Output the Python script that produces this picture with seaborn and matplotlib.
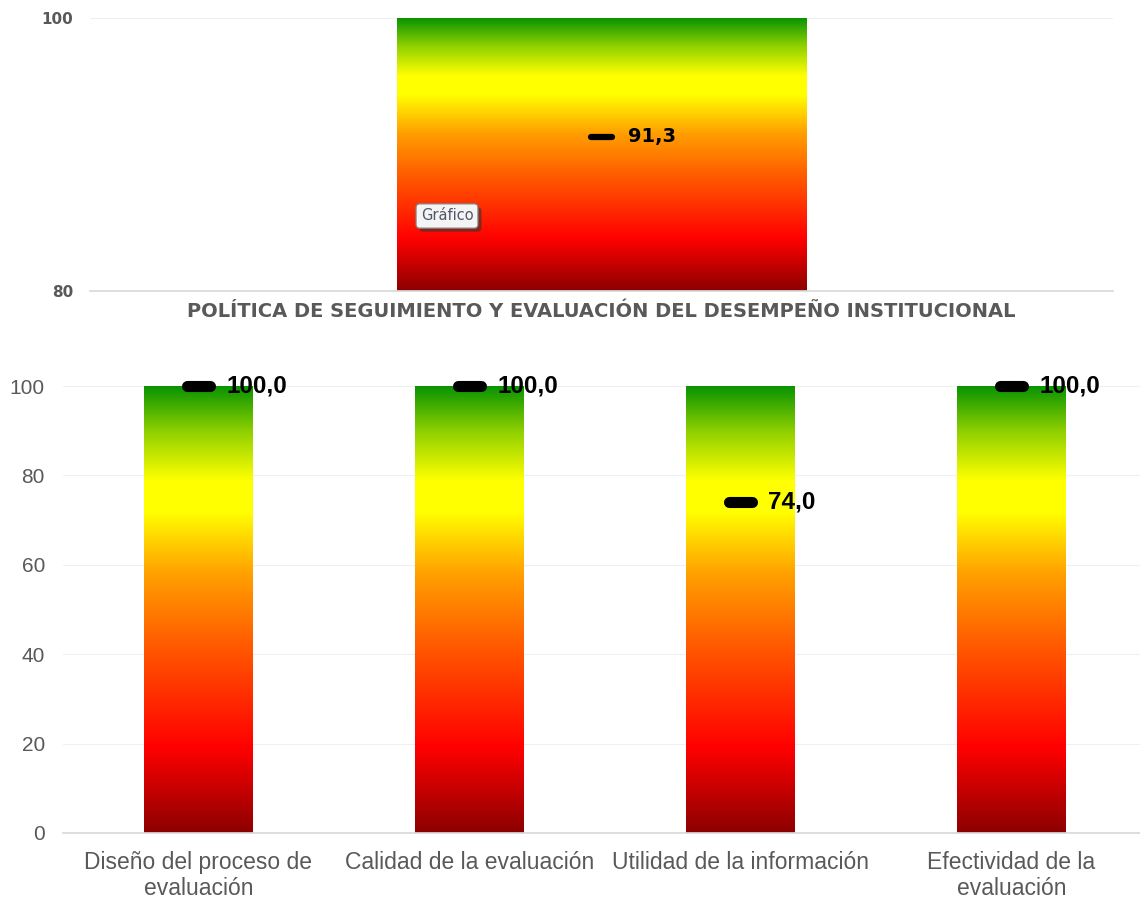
import numpy as np
import pandas as pd
import seaborn as sns
import matplotlib.pyplot as plt
import matplotlib.patheffects as pe
from matplotlib.colors import LinearSegmentedColormap

# --- data -------------------------------------------------------------
politica = ["POLÍTICA DE SEGUIMIENTO Y EVALUACIÓN DEL DESEMPEÑO INSTITUCIONAL"]
politica_valor = [91.3]
politica_escala = [100]          # full scale drawn as the coloured bar
politica_ticks = [80, 100]

componentes = [
    "Diseño del proceso de\nevaluación",
    "Calidad de la evaluación",
    "Utilidad de la información",
    "Efectividad de la\nevaluación",
]
componentes_valor = [100.0, 100.0, 74.0, 100.0]
componentes_escala = [100, 100, 100, 100]
componentes_ticks = [0, 20, 40, 60, 80, 100]

# --- style ------------------------------------------------------------
sns.set_theme(style="white")
plt.rcParams["font.family"] = ["Liberation Sans", "DejaVu Sans"]

semaforo = LinearSegmentedColormap.from_list(
    "semaforo",
    [(0.00, "#8c0000"), (0.19, "#ff0000"), (0.42, "#ff5a00"),
     (0.58, "#ffa000"), (0.72, "#ffff00"), (0.79, "#ffff00"),
     (0.90, "#8fd000"), (1.00, "#0a9400")],
)
gradiente = np.linspace(0, 1, 512).reshape(-1, 1)

GRIS = "#595959"


def fmt(v):
    return f"{v:.1f}".replace(".", ",")


def pintar_gradiente(ax, ymin):
    xl, yl = ax.get_xlim(), ax.get_ylim()
    for bar in ax.patches:
        x0, w = bar.get_x(), bar.get_width()
        y1 = bar.get_y() + bar.get_height()
        im = ax.imshow(gradiente, cmap=semaforo, origin="lower", aspect="auto",
                       extent=(x0, x0 + w, ymin, y1), zorder=2,
                       interpolation="bilinear")
        im.set_clip_path(bar)
        bar.set_facecolor("none")
        bar.set_edgecolor("none")
    ax.set_xlim(xl)
    ax.set_ylim(yl)


fig = plt.figure(figsize=(11.4, 9.01), dpi=100)

# --- top panel: overall policy score ------------------------------------
ax1 = fig.add_axes([90 / 1140, 1 - 291 / 901, 1023 / 1140, 273 / 901])
df1 = pd.DataFrame({"cat": politica, "escala": politica_escala, "valor": politica_valor})
sns.barplot(data=df1, x="cat", y="escala", ax=ax1, width=0.4, color="red",
            saturation=1, zorder=2)
ax1.set_xlim(-0.5, 0.5)
ax1.set_ylim(politica_ticks[0], politica_ticks[-1])
pintar_gradiente(ax1, politica_ticks[0])
ax1.set_yticks(politica_ticks)
ax1.yaxis.grid(True, color="#efefef", linewidth=0.8, zorder=0)
ax1.set_axisbelow(True)
for s in ["left", "right", "top"]:
    ax1.spines[s].set_visible(False)
ax1.spines["bottom"].set_color("#d9d9d9")
ax1.set_xlabel("")
ax1.set_ylabel("")
ax1.tick_params(axis="both", length=0)
ax1.tick_params(axis="x", pad=8)
ax1.tick_params(axis="y", pad=12)
for t in ax1.get_yticklabels():
    t.set_fontfamily("DejaVu Sans")
    t.set_fontweight("bold")
    t.set_fontsize(11)
    t.set_color(GRIS)
for t in ax1.get_xticklabels():
    t.set_fontfamily("DejaVu Sans")
    t.set_fontweight("bold")
    t.set_fontsize(14)
    t.set_color(GRIS)

for i, v in enumerate(politica_valor):
    ax1.hlines(v, i - 0.0105, i + 0.0105, color="black", linewidth=4.5,
               capstyle="round", zorder=5)
    ax1.annotate(fmt(v), (i, v), xytext=(19, 0), textcoords="offset points",
                 ha="left", va="center", fontsize=14, fontweight="bold",
                 family="DejaVu Sans", color="black", zorder=6)

# small chart button overlay with a drop shadow
boton = fig.text(447 / 1140, 1 - 216 / 901, "Gráfico", fontsize=10.5,
                 family="DejaVu Sans", ha="center", va="center",
                 color="#4f5868", zorder=9,
                 bbox=dict(boxstyle="round,pad=0.32,rounding_size=0.25",
                           fc="#f4f4f4", ec="#808080", linewidth=0.9))
boton.get_bbox_patch().set_path_effects(
    [pe.SimplePatchShadow(offset=(2.5, -2.5), shadow_rgbFace="#333333", alpha=0.6),
     pe.Normal()]
)

# --- bottom panel: components ----------------------------------------------
ax2 = fig.add_axes([63 / 1140, 1 - 833 / 901, 1084 / 1140, 447 / 901])
df2 = pd.DataFrame({"cat": componentes, "escala": componentes_escala,
                    "valor": componentes_valor})
sns.barplot(data=df2, x="cat", y="escala", ax=ax2, width=0.4, color="red",
            saturation=1, zorder=2)
ax2.set_xlim(-0.5, len(componentes) - 0.5)
ax2.set_ylim(componentes_ticks[0], componentes_ticks[-1])
pintar_gradiente(ax2, componentes_ticks[0])
ax2.set_yticks(componentes_ticks)
ax2.yaxis.grid(True, color="#f0f0f0", linewidth=0.8, zorder=0)
ax2.set_axisbelow(True)
for s in ["left", "right", "top"]:
    ax2.spines[s].set_visible(False)
ax2.spines["bottom"].set_color("#d9d9d9")
ax2.set_xlabel("")
ax2.set_ylabel("")
ax2.tick_params(axis="both", length=0, colors=GRIS)
ax2.tick_params(axis="x", labelsize=16.5, pad=13)
ax2.tick_params(axis="y", labelsize=15, pad=13)
for t in ax2.get_xticklabels():
    t.set_linespacing(1.15)

for i, v in enumerate(componentes_valor):
    ax2.hlines(v, i - 0.042, i + 0.042, color="black", linewidth=8,
               capstyle="round", zorder=5, clip_on=False)
    ax2.annotate(fmt(v), (i, v), xytext=(20, 0), textcoords="offset points",
                 ha="left", va="center", fontsize=17.5, fontweight="bold",
                 color="black", zorder=6, annotation_clip=False)

fig.savefig("out.png", dpi=100, facecolor="white")
